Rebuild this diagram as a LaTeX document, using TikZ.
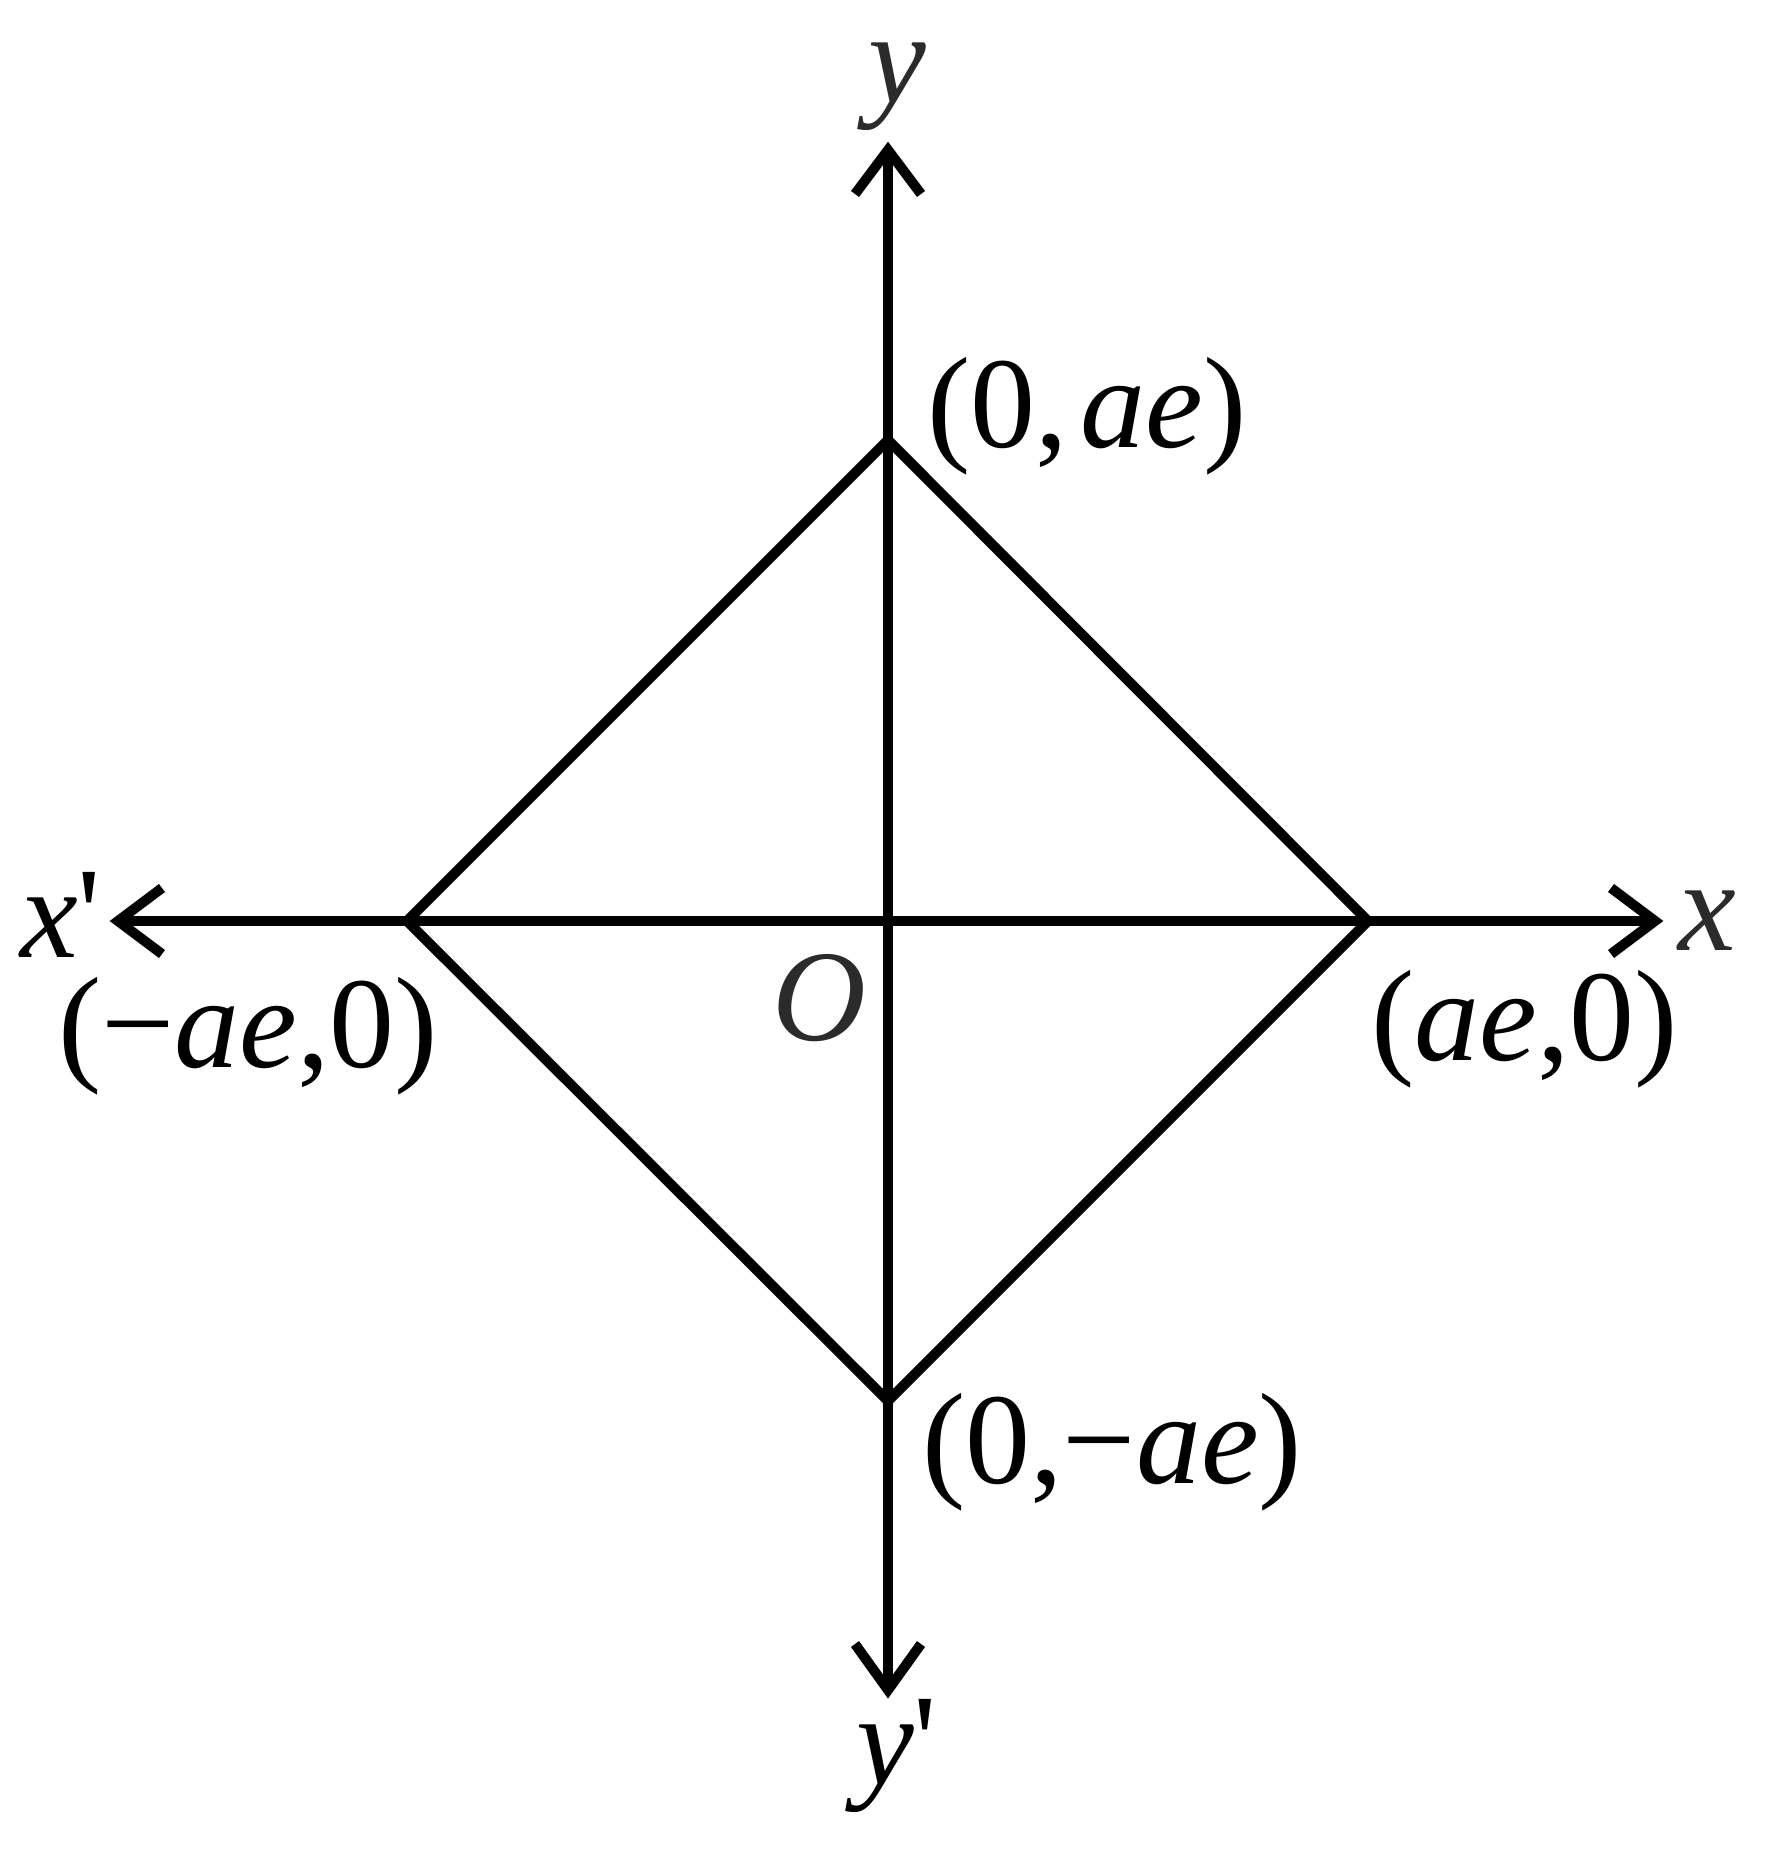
\documentclass[tikz,border=0pt]{standalone}
\usepackage{fontspec}
\setmainfont{Liberation Serif}
\newfontfamily\primefont{Liberation Serif}[Ligatures=TeXOff]
\definecolor{labelgray}{RGB}{43,43,43}
\newcommand{\prm}{{\primefont'}}
\begin{document}
\begin{tikzpicture}[x=0.5pt,y=-0.5pt,
  axisline/.style={line width=5pt, line cap=butt},
  barbline/.style={line width=5pt, line cap=butt, line join=miter, miter limit=10},
  diamondline/.style={line width=5pt, line join=miter, miter limit=10},
  lbl/.style={anchor=base west, inner sep=0pt, outer sep=0pt, font=\fontsize{65}{70}\selectfont},
  axlbl/.style={lbl, text=labelgray}]
\useasboundingbox (0,0) rectangle (1768,1852);
% axis end points
\coordinate (xl) at (118,921);
\coordinate (xr) at (1655,921);
\coordinate (yt) at (888,150);
\coordinate (yb) at (888,1690);
% barb ends
\coordinate (xla) at (162,888);
\coordinate (xlb) at (162,954);
\coordinate (xra) at (1611,888);
\coordinate (xrb) at (1611,954);
\coordinate (yta) at (855,194);
\coordinate (ytb) at (921,194);
\coordinate (yba) at (855,1644);
\coordinate (ybb) at (921,1644);
% diamond vertices
\coordinate (T) at (888,440);
\coordinate (B) at (888,1401);
\coordinate (L) at (407,921);
\coordinate (R) at (1368,921);
% axes
\draw[axisline] (xl) -- (xr);
\draw[axisline] (yt) -- (yb);
\draw[barbline] (xla) -- (xl) -- (xlb);
\draw[barbline] (xra) -- (xr) -- (xrb);
\draw[barbline] (yta) -- (yt) -- (ytb);
\draw[barbline] (yba) -- (yb) -- (ybb);
% diamond
\draw[diamondline] (T) -- (R) -- (B) -- (L) -- cycle;
% labels
\node[lbl] (lt) at (927,447) {(0,\hspace{0.1em}\textit{ae})};
\node[lbl] (lb) at (922,1483) {(0,−\textit{ae})};
\node[lbl] (ll) at (58,1067) {(−\textit{ae},0)};
\node[lbl] (lr) at (1371,1060) {(\textit{ae},0)};
\node[axlbl] (lo) at (772,1040) {\textit{O}};
\node[axlbl] (lx) at (1678,950) {\textit{x}};
\node[lbl] (lxp) at (20,957) {\textit{x}\prm};
\node[axlbl] (ly) at (868,102) {\textit{y}};
\node[lbl] (lyp) at (856,1784) {\textit{y}\prm};
\end{tikzpicture}
\end{document}
